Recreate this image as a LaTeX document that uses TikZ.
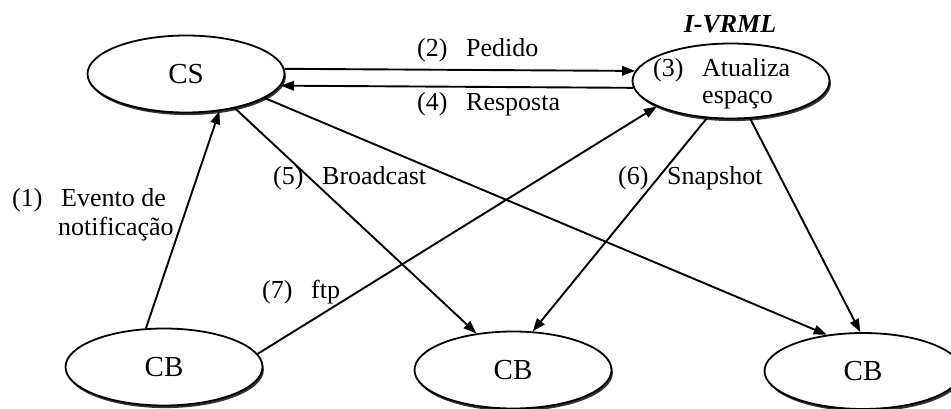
\documentclass[tikz,border=0pt]{standalone}
\usepackage{fontspec}
\setmainfont{Liberation Serif}
\usetikzlibrary{arrows.meta,shapes.geometric,shadows}

% number column followed by the label text
\newcommand\numlbl[2]{\makebox[49pt][l]{#1}#2}

\begin{document}
\begin{tikzpicture}[x=1pt,y=-1pt,
  site/.style={draw, ellipse, line width=1.8pt, fill=white,
    minimum width=197pt, minimum height=77pt, inner sep=0pt,
    font=\fontsize{29}{32}\selectfont,
    drop shadow={shadow xshift=1.4pt, shadow yshift=-2.6pt, fill=black!80, opacity=1}},
  lbl/.style={inner sep=0pt, anchor=base west, font=\fontsize{26}{30}\selectfont},
  link/.style={line width=1.9pt, -{Triangle[length=13pt,width=9.5pt]}}]

\useasboundingbox (0,0) rectangle (951,409);

% servers and clients
\node[site] (cs)  at (186,74)  {CS};
\node[site, minimum height=75pt] (vr) at (731,81) {};
\node[site] (cb1) at (164,367) {CB};
\node[site] (cb2) at (513,370) {CB};
\node[site, minimum height=76pt] (cb3) at (863,371) {CB};

% texts
\node[lbl, anchor=base, font=\fontsize{26}{30}\selectfont\bfseries\itshape] (vrname) at (730,33) {I-VRML};
\node[lbl] (t3a) at (653,77) {\numlbl{(3)}{Atualiza}};
\node[lbl] (t3b) at (702,104) {espaço};
\node[lbl] (t2) at (417,57) {\numlbl{(2)}{Pedido}};
\node[lbl] (t4) at (417,111) {\numlbl{(4)}{Resposta}};
\node[lbl] (t1a) at (12,207) {\numlbl{(1)}{Evento de}};
\node[lbl] (t1b) at (58,235) {notificação};
\node[lbl] (t5) at (273,185) {\numlbl{(5)}{Broadcast}};
\node[lbl] (t6) at (618,185) {\numlbl{(6)}{Snapshot}};
\node[lbl] (t7) at (262,298) {\numlbl{(7)}{ftp}};

% messages
\draw[link] (cb1.115) -- (cs.-48);
\draw[link] (cs.3.5) -- (vr.174);
\draw[link] (vr.184) -- (cs.-7);
\draw[link] (cs.-35) -- (cb2.135);
\draw[link] (cs.-17) -- (cb3.135);
\draw[link] (cb1.8) -- (vr.199);
\draw[link] (vr.237) -- (cb2.63);
\draw[link] (vr.297) -- (cb3.94.5);
\end{tikzpicture}
\end{document}
